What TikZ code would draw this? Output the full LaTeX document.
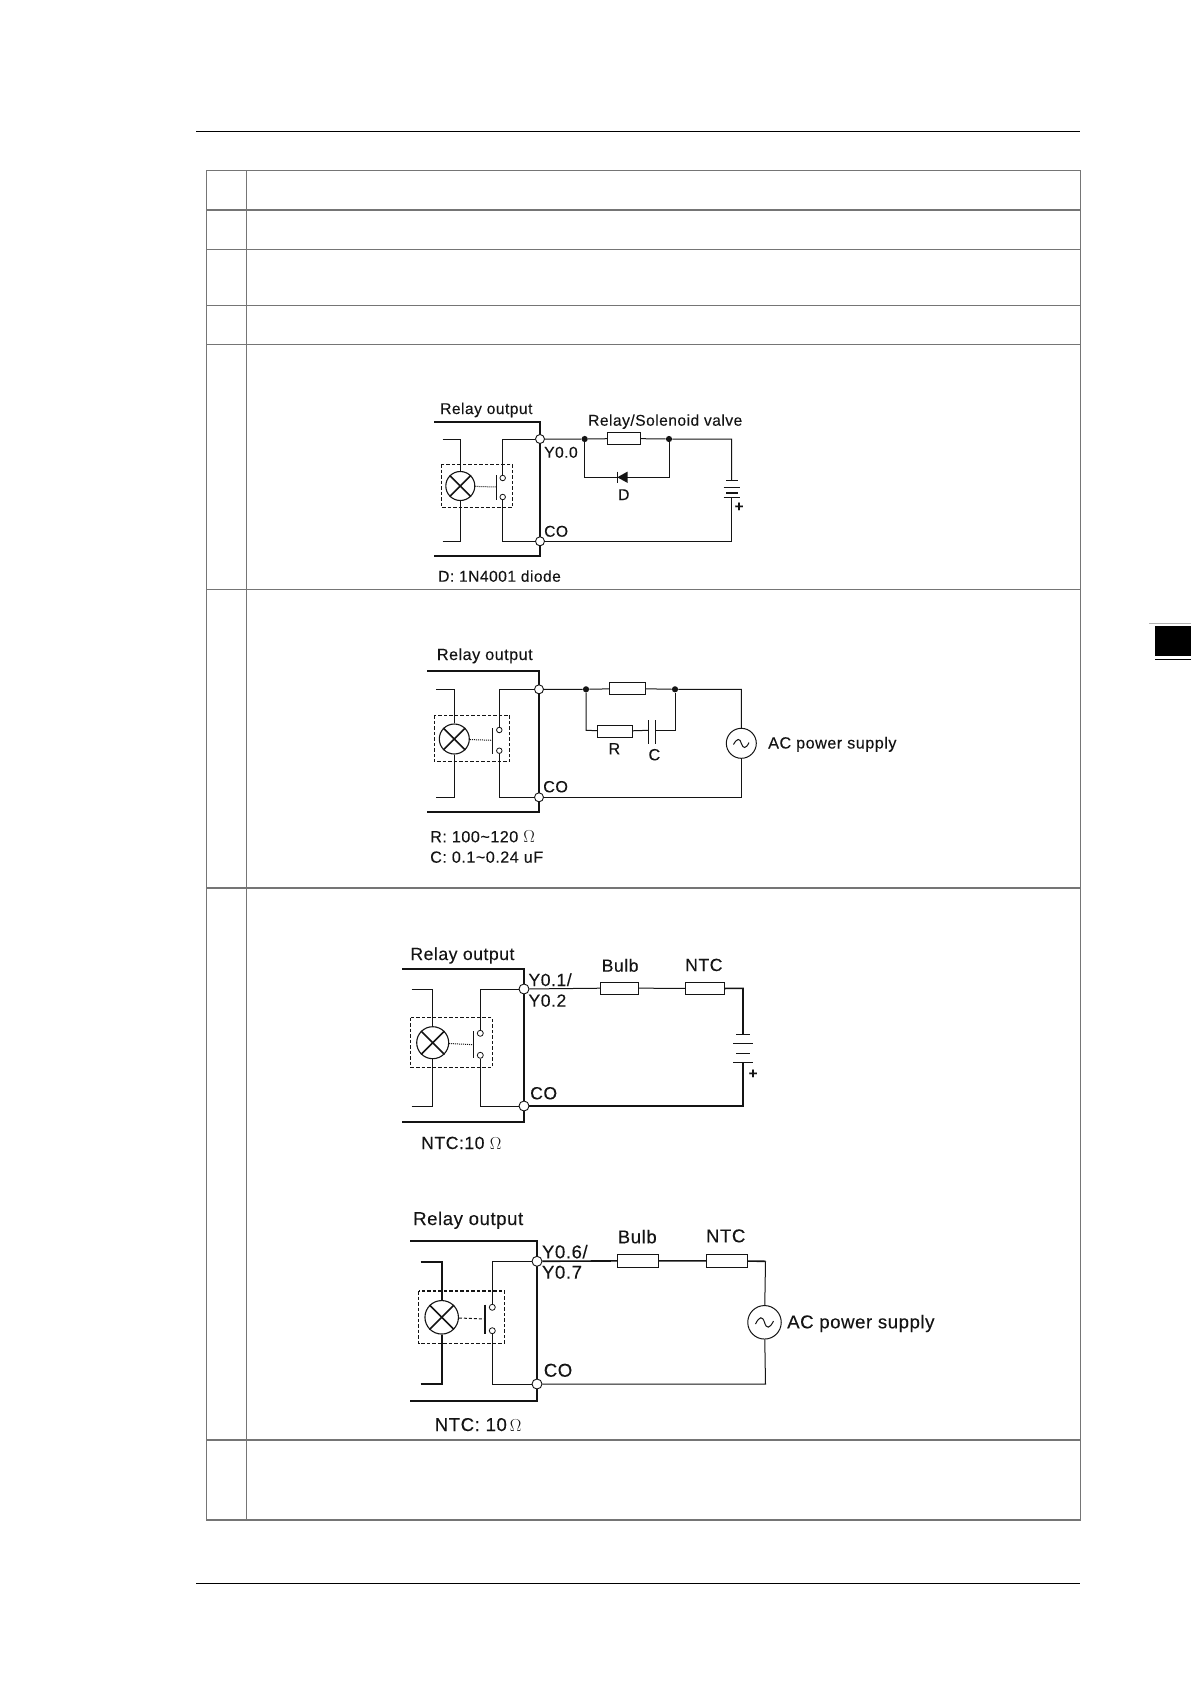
\documentclass[tikz,border=0pt]{standalone}
\usepackage{fontspec}
\setmainfont[LetterSpace=3,FakeBold=0.12]{Liberation Sans}
\definecolor{ink}{gray}{0.08}
\definecolor{rule}{gray}{0.46}
\tikzset{
    wire/.style={line width=1pt, draw=ink},
    heavy/.style={line width=1.6pt, draw=ink},
    cross/.style={line width=1.6pt, draw=ink},
    frame/.style={line width=2.2pt, draw=ink},
    grid/.style={line width=1.2pt, draw=rule},
    term/.style={circle, draw=ink, line width=0.9pt, fill=white, inner sep=0pt, minimum size=9pt},
    contact/.style={circle, draw=ink, line width=0.8pt, fill=white, inner sep=0pt, minimum size=5.5pt},
    junction/.style={circle, fill=ink, inner sep=0pt, minimum size=6.2pt},
    res/.style={rectangle, draw=ink, line width=1pt, fill=white, inner sep=0pt},
    lamp/.style={circle, draw=ink, line width=1.1pt, fill=white, inner sep=0pt},
    source/.style={circle, draw=ink, line width=1pt, fill=white, inner sep=0pt},
    relaybox/.style={draw=ink, line width=0.9pt, dash pattern=on 3.5pt off 2pt},
    lbl/.style={anchor=base west, inner sep=0pt, text=ink},
    mid/.style={anchor=center, inner sep=0pt, text=ink, font=\bfseries\fontsize{15}{15}\selectfont},
    sizeA/.style={font=\fontsize{15.6}{16}\selectfont},
    sizeB/.style={font=\fontsize{16.2}{17}\selectfont},
    sizeC/.style={font=\fontsize{17.6}{18}\selectfont},
    sizeD/.style={font=\fontsize{18.6}{19}\selectfont},
}
\begin{document}
\begin{tikzpicture}[x=1pt, y=-1pt]
    \useasboundingbox[fill=white] (0, 0) rectangle (1191, 1684);

    % page rules and tab
    \draw[line width=1.3pt, black] (196, 131.5) -- (1080, 131.5);
    \draw[line width=1pt, black] (196, 1583.5) -- (1080, 1583.5);
    \fill[black] (1155, 626) rectangle (1191, 656);
    \draw[line width=1.3pt, black] (1155, 659.5) -- (1191, 659.5);
    \draw[line width=0.8pt, gray!60] (1149, 623) -- (1191, 623);

    % table
    \draw[grid] (206.5, 170.5) rectangle (1080.5, 1520);
    \draw[grid] (246.5, 170.5) -- (246.5, 1520);
    \draw[grid] (206.5, 210) -- (1080.5, 210);
    \draw[grid] (206.5, 249.5) -- (1080.5, 249.5);
    \draw[grid] (206.5, 305.5) -- (1080.5, 305.5);
    \draw[grid] (206.5, 344.5) -- (1080.5, 344.5);
    \draw[grid] (206.5, 589.5) -- (1080.5, 589.5);
    \draw[grid] (206.5, 888) -- (1080.5, 888);
    \draw[grid] (206.5, 1440) -- (1080.5, 1440);

    % relay with diode
    \draw[frame] (434, 422) -- (540, 422) -- (540, 555.7) -- (434, 555.7);
    \node[term] (ta) at (540, 439) {};
    \node[term] (ca) at (540, 541.3) {};
    \node[junction] (ja) at (584.7, 439) {};
    \node[junction] (jb) at (669, 439) {};
    \node[res, minimum width=33.4pt, minimum height=11.6pt] (ra) at (624, 438.5) {};
    \node[lamp, minimum size=29pt] (la) at (460.3, 486) {};
    \node[contact] (ka) at (502.7, 478) {};
    \node[contact] (kb) at (502.7, 497) {};
    \coordinate (Q1) at (442.7, 439);
    \coordinate (Q2) at (442.7, 541.3);
    \coordinate (Q3) at (460.3, 439);
    \coordinate (Q4) at (460.3, 541.3);
    \coordinate (Q5) at (502.7, 439);
    \coordinate (Q6) at (502.7, 541.3);
    \coordinate (Q7) at (584.7, 477.3);
    \coordinate (Q8) at (669, 477.3);
    \coordinate (Q9) at (731.7, 439);
    \coordinate (Q10) at (731.7, 480.7);
    \coordinate (Q11) at (731.7, 497.3);
    \coordinate (Q12) at (731.7, 541.3);
    \draw[relaybox] (441.3, 464) rectangle (512.3, 507.3);
    \draw[wire] (Q1) -- (Q3) -- (la);
    \draw[wire] (Q2) -- (Q4) -- (la);
    \draw[cross] (la.45) -- (la.225);
    \draw[cross] (la.135) -- (la.315);
    \draw[wire] (ta) -- (Q5) -- (ka);
    \draw[wire] (ca) -- (Q6) -- (kb);
    \coordinate (S1) at (496.7, 475.3);
    \coordinate (S2) at (496.7, 500);
    \coordinate (S3) at (496.7, 487);
    \draw[wire] (S1) -- (S2);
    \draw[wire, densely dotted] (la) -- (S3);
    \draw[wire] (ta) -- (ja) -- (ra) -- (jb) -- (Q9) -- (Q10);
    \draw[wire] (ja) -- (Q7) -- (Q8) -- (jb);
    \draw[wire] (ca) -- (Q12) -- (Q11);
    \coordinate (Da) at (617.3, 477.3);
    \fill[ink] (Da) -- (627.7, 471.5) -- (627.7, 483) -- cycle;
    \draw[wire] (617.3, 471.5) -- (617.3, 483);
    \draw[wire] (726, 480.7) -- (737.5, 480.7);
    \draw[line width=1.3pt, draw=ink] (723.5, 487.3) -- (740, 487.3);
    \draw[line width=1.6pt, draw=ink] (726, 492.7) -- (737.5, 492.7);
    \draw[wire] (723.5, 497.3) -- (740, 497.3);
    \node[mid] (pa) at (739, 507) {+};
    \node[lbl, sizeA] (na) at (440, 414) {Relay output};
    \node[lbl, sizeA] (nb) at (588, 425.7) {Relay/Solenoid valve};
    \node[lbl, sizeA] (nc) at (544, 457.7) {Y0.0};
    \node[lbl, sizeA] (nd) at (544, 536.7) {CO};
    \node[lbl, sizeA] (ne) at (618, 500) {D};
    \node[lbl, sizeA] (nf) at (438, 581.7) {D: 1N4001 diode};

    % relay with RC snubber
    \draw[frame] (427, 671) -- (539, 671) -- (539, 812.3) -- (427, 812.3);
    \node[term] (tb) at (539, 689.3) {};
    \node[term] (cb) at (539, 797.3) {};
    \node[junction] (jc) at (586, 689.3) {};
    \node[junction] (jd) at (675, 689.3) {};
    \node[res, minimum width=36.4pt, minimum height=12.4pt] (rb) at (627.5, 688.5) {};
    \node[res, minimum width=35.4pt, minimum height=12pt] (rc) at (615, 731.3) {};
    \node[source, minimum size=30pt] (sa) at (741.3, 743.3) {};
    \node[lamp, minimum size=30pt] (lb) at (454.3, 739) {};
    \node[contact] (kc) at (499.3, 730) {};
    \node[contact] (kd) at (499.3, 750.7) {};
    \coordinate (Q1) at (436, 689.3);
    \coordinate (Q2) at (436, 797.3);
    \coordinate (Q3) at (454.3, 689.3);
    \coordinate (Q4) at (454.3, 797.3);
    \coordinate (Q5) at (499.3, 689.3);
    \coordinate (Q6) at (499.3, 797.3);
    \coordinate (Q7) at (586, 730.3);
    \coordinate (Q8) at (675, 730.3);
    \coordinate (Q9) at (741.3, 689.3);
    \coordinate (Q10) at (741.3, 797.3);
    \coordinate (Q11) at (648.7, 730.3);
    \coordinate (Q12) at (655, 730.3);
    \draw[relaybox] (434, 715.3) rectangle (509.7, 761.7);
    \draw[wire] (Q1) -- (Q3) -- (lb);
    \draw[wire] (Q2) -- (Q4) -- (lb);
    \draw[cross] (lb.45) -- (lb.225);
    \draw[cross] (lb.135) -- (lb.315);
    \draw[wire] (tb) -- (Q5) -- (kc);
    \draw[wire] (cb) -- (Q6) -- (kd);
    \coordinate (S1) at (492.3, 728);
    \coordinate (S2) at (492.3, 754);
    \coordinate (S3) at (492.3, 740.3);
    \draw[wire] (S1) -- (S2);
    \draw[wire, densely dotted] (lb) -- (S3);
    \draw[wire] (tb) -- (jc) -- (rb) -- (jd) -- (Q9) -- (sa);
    \draw[wire] (cb) -- (Q10) -- (sa);
    \draw[wire] (jc) -- (Q7) -- (rc) -- (Q11);
    \draw[wire] (Q12) -- (Q8) -- (jd);
    \draw[wire] (648.7, 720.3) -- (648.7, 744);
    \draw[wire] (655, 720.3) -- (655, 744);
    \draw[wire] (733.5, 744.5) .. controls (737, 738) and (740, 738) .. (741.3, 743.3) .. controls (743, 749) and (746, 749) .. (749, 742.5);
    \node[lbl, sizeB] (ng) at (436.7, 660) {Relay output};
    \node[lbl, sizeB] (nh) at (543, 792.3) {CO};
    \node[lbl, sizeB] (ni) at (608.3, 754.3) {R};
    \node[lbl, sizeB] (nj) at (648.3, 760.3) {C};
    \node[lbl, sizeB] (nk) at (768, 748.5) {AC power supply};
    \node[lbl, sizeB] (nl) at (430, 842.3) {R: 100\textasciitilde 120 $\Omega$};
    \node[lbl, sizeB] (nm) at (430, 862.7) {C: 0.1\textasciitilde 0.24 uF};

    % relay with bulb, battery
    \draw[frame] (402.3, 969.3) -- (524, 969.3) -- (524, 1121.7) -- (402.3, 1121.7);
    \node[term, minimum size=10pt] (tc) at (524, 989) {};
    \node[term, minimum size=10pt] (cc) at (524, 1106) {};
    \node[res, minimum width=38pt, minimum height=12pt] (rd) at (619.7, 988) {};
    \node[res, minimum width=39pt, minimum height=12.7pt] (re) at (705.2, 988.6) {};
    \node[lamp, minimum size=32pt] (lc) at (432.7, 1042.7) {};
    \node[contact, minimum size=6pt] (ke) at (480.3, 1033.3) {};
    \node[contact, minimum size=6pt] (kf) at (480.3, 1055.3) {};
    \coordinate (Q1) at (411.7, 989);
    \coordinate (Q2) at (411.7, 1106);
    \coordinate (Q3) at (432.7, 989);
    \coordinate (Q4) at (432.7, 1106);
    \coordinate (Q5) at (480.3, 989);
    \coordinate (Q6) at (480.3, 1106);
    \coordinate (Q7) at (743, 988.3);
    \coordinate (Q8) at (743, 1034.3);
    \coordinate (Q9) at (743, 1062.3);
    \coordinate (Q10) at (743, 1106);
    \draw[relaybox] (410.7, 1017.7) rectangle (492, 1067.3);
    \draw[wire] (Q1) -- (Q3) -- (lc);
    \draw[wire] (Q2) -- (Q4) -- (lc);
    \draw[cross] (lc.45) -- (lc.225);
    \draw[cross] (lc.135) -- (lc.315);
    \draw[wire] (tc) -- (Q5) -- (ke);
    \draw[wire] (cc) -- (Q6) -- (kf);
    \coordinate (S1) at (473.7, 1031.3);
    \coordinate (S2) at (473.7, 1058.3);
    \coordinate (S3) at (473.7, 1044.7);
    \draw[wire] (S1) -- (S2);
    \draw[wire, densely dotted] (lc) -- (S3);
    \draw[wire] (tc) -- (rd) -- (re);
    \draw[heavy] (re) -- (Q7) -- (Q8);
    \draw[heavy] (cc) -- (Q10) -- (Q9);
    \draw[wire] (736, 1034.3) -- (750, 1034.3);
    \draw[wire] (733, 1043.3) -- (752.7, 1043.3);
    \draw[wire] (736, 1053.3) -- (750, 1053.3);
    \draw[wire] (733, 1062.3) -- (752.7, 1062.3);
    \node[mid] (pb) at (753, 1074) {+};
    \node[lbl, sizeC] (nn) at (410.2, 960) {Relay output};
    \node[lbl, sizeC] (no) at (528.3, 986) {Y0.1/};
    \node[lbl, sizeC] (np) at (528.3, 1006.7) {Y0.2};
    \node[lbl, sizeC] (nq) at (530, 1099.3) {CO};
    \node[lbl, sizeC] (nr) at (601.5, 971.7) {Bulb};
    \node[lbl, sizeC] (ns) at (685, 971) {NTC};
    \node[lbl, sizeC] (nt) at (421, 1149) {NTC:10 $\Omega$};

    % relay with bulb, AC supply
    \draw[frame, line width=1.6pt] (410, 1241) -- (537, 1241) -- (537, 1401) -- (410, 1401);
    \node[term, minimum size=10pt] (td) at (537, 1261.3) {};
    \node[term, minimum size=10pt] (cd) at (537, 1384) {};
    \node[res, minimum width=40.5pt, minimum height=13pt] (rf) at (638, 1260.8) {};
    \node[res, minimum width=40.6pt, minimum height=13pt] (rg) at (727, 1260.8) {};
    \node[source, minimum size=33.5pt] (sb) at (764.5, 1322.3) {};
    \node[lamp, minimum size=33.5pt] (ld) at (441.7, 1317.3) {};
    \node[contact, minimum size=6pt] (kg) at (492.3, 1307.3) {};
    \node[contact, minimum size=6pt] (kh) at (492.3, 1330.7) {};
    \coordinate (Q1) at (420.7, 1261.8);
    \coordinate (Q2) at (420.7, 1384);
    \coordinate (Q3) at (441.7, 1261.8);
    \coordinate (Q4) at (441.7, 1384);
    \coordinate (Q5) at (492.3, 1261.3);
    \coordinate (Q6) at (492.3, 1384);
    \coordinate (Q7) at (765.5, 1261.3);
    \coordinate (Q8) at (765.5, 1384);
    \draw[relaybox, line width=1.1pt] (418.7, 1291) rectangle (504.3, 1343.3);
    \draw[heavy] (Q1) -- (Q3) -- (ld);
    \draw[heavy] (Q2) -- (Q4) -- (ld);
    \draw[cross] (ld.45) -- (ld.225);
    \draw[cross] (ld.135) -- (ld.315);
    \draw[heavy] (td) -- (Q5);
    \draw[wire] (Q5) -- (kg);
    \draw[wire] (cd) -- (Q6) -- (kh);
    \coordinate (S1) at (484.7, 1304.7);
    \coordinate (S2) at (484.7, 1334);
    \coordinate (S3) at (484.7, 1319);
    \draw[heavy] (S1) -- (S2);
    \draw[wire, densely dashed] (ld) -- (S3);
    \draw[heavy] (td) -- (rf) -- (rg) -- (Q7);
    \draw[wire] (Q7) -- (sb);
    \draw[wire] (cd) -- (Q8) -- (sb);
    \draw[wire] (755.5, 1324) .. controls (759.5, 1316) and (762.5, 1316) .. (764.5, 1322.3) .. controls (766.5, 1329) and (769.5, 1329) .. (773.5, 1321);
    \node[lbl, sizeD] (nu) at (413, 1225) {Relay output};
    \node[lbl, sizeD] (nv) at (541.8, 1258.3) {Y0.6/};
    \node[lbl, sizeD] (nw) at (541.8, 1278.7) {Y0.7};
    \node[lbl, sizeD] (nx) at (543.6, 1376.7) {CO};
    \node[lbl, sizeD] (ny) at (617.6, 1243.3) {Bulb};
    \node[lbl, sizeD] (nz) at (705.8, 1242.3) {NTC};
    \node[lbl, sizeD] (oa) at (787, 1328.3) {AC power supply};
    \node[lbl, sizeD] (ob) at (434.6, 1431) {NTC: 10\,$\Omega$};
\end{tikzpicture}
\end{document}
